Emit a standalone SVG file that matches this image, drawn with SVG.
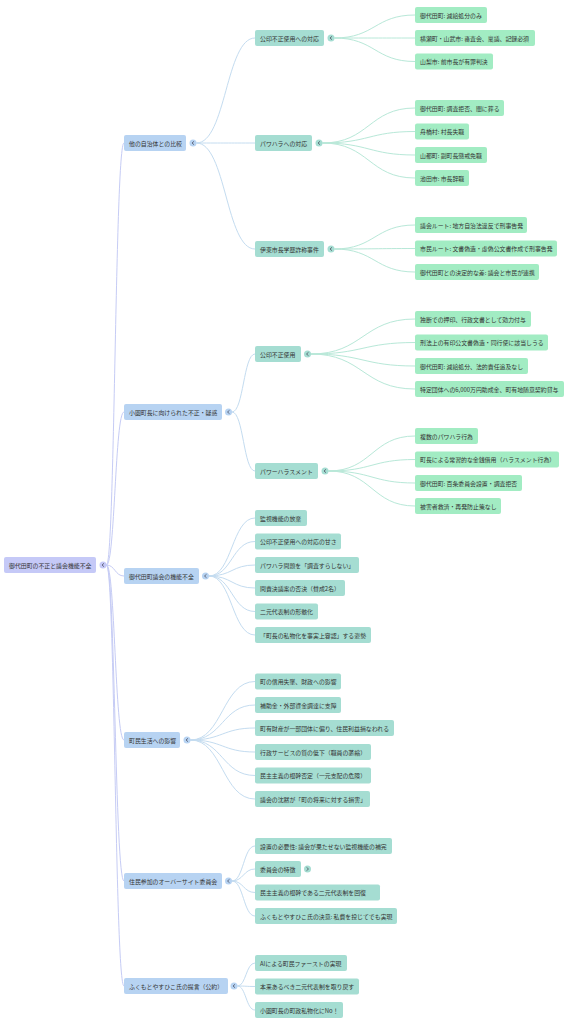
<svg xmlns="http://www.w3.org/2000/svg" width="578" height="1024" viewBox="0 0 578 1024">
<style>
text{font-family:"Noto Sans CJK JP","Noto Sans",sans-serif;font-size:5.9px;fill:#333;dominant-baseline:central}
.r0{fill:#c5c9f7}.r1{fill:#b7d3f2}.r2{fill:#a5ddd2}.r3{fill:#a2ecc3}
.l0{fill:none;stroke:#c6ccf5;stroke-width:1}
.l1{fill:none;stroke:#c4dcf0;stroke-width:1}
.l2{fill:none;stroke:#b8e8d8;stroke-width:1}
.chev{fill:none;stroke:#445;stroke-width:0.7}
</style>
<rect width="578" height="1024" fill="#fff"/>
<g id="connectors">
<!-- root to L1 -->
<path class="l0" d="M106.5,565 C115,565 115,143 124,143"/>
<path class="l0" d="M106.5,565 C115,565 115,412 124,412"/>
<path class="l0" d="M106.5,565 C115,565 115,576 124,576"/>
<path class="l0" d="M106.5,565 C115,565 115,740 124,740"/>
<path class="l0" d="M106.5,565 C115,565 115,881 124,881"/>
<path class="l0" d="M106.5,565 C115,565 115,986 124,986"/>
<!-- L1 to L2 -->
<path class="l1" d="M196.5,143 C226,143 226,38 255,38"/>
<path class="l1" d="M196.5,143 C226,143 226,143 255,143"/>
<path class="l1" d="M196.5,143 C226,143 226,249 255,249"/>
<path class="l1" d="M232,412 C243.5,412 243.5,354 255,354"/>
<path class="l1" d="M232,412 C243.5,412 243.5,471 255,471"/>
<path class="l1" d="M209,576 C232,576 232,518 255,518"/>
<path class="l1" d="M209,576 C232,576 232,541.5 255,541.5"/>
<path class="l1" d="M209,576 C232,576 232,565 255,565"/>
<path class="l1" d="M209,576 C232,576 232,588 255,588"/>
<path class="l1" d="M209,576 C232,576 232,611.5 255,611.5"/>
<path class="l1" d="M209,576 C232,576 232,635 255,635"/>
<path class="l1" d="M190.5,740 C222.5,740 222.5,681.5 255,681.5"/>
<path class="l1" d="M190.5,740 C222.5,740 222.5,705 255,705"/>
<path class="l1" d="M190.5,740 C222.5,740 222.5,728 255,728"/>
<path class="l1" d="M190.5,740 C222.5,740 222.5,752 255,752"/>
<path class="l1" d="M190.5,740 C222.5,740 222.5,775.5 255,775.5"/>
<path class="l1" d="M190.5,740 C222.5,740 222.5,799 255,799"/>
<path class="l1" d="M232,881 C243.5,881 243.5,846 255,846"/>
<path class="l1" d="M232,881 C243.5,881 243.5,869 255,869"/>
<path class="l1" d="M232,881 C243.5,881 243.5,892.5 255,892.5"/>
<path class="l1" d="M232,881 C243.5,881 243.5,916 255,916"/>
<path class="l1" d="M237.5,986 C246,986 246,963 255,963"/>
<path class="l1" d="M237.5,986 C246,986 246,986.5 255,986.5"/>
<path class="l1" d="M237.5,986 C246,986 246,1010 255,1010"/>
<!-- L2 to L3 -->
<path class="l2" d="M334.5,38 C375,38 375,15 415,15"/>
<path class="l2" d="M334.5,38 C375,38 375,38 415,38"/>
<path class="l2" d="M334.5,38 C375,38 375,61.5 415,61.5"/>
<path class="l2" d="M322.5,143 C369,143 369,108 415,108"/>
<path class="l2" d="M322.5,143 C369,143 369,131.5 415,131.5"/>
<path class="l2" d="M322.5,143 C369,143 369,155 415,155"/>
<path class="l2" d="M322.5,143 C369,143 369,178 415,178"/>
<path class="l2" d="M334.5,249 C375,249 375,225 415,225"/>
<path class="l2" d="M334.5,249 C375,249 375,248.5 415,248.5"/>
<path class="l2" d="M334.5,249 C375,249 375,272 415,272"/>
<path class="l2" d="M311,354 C363,354 363,319 415,319"/>
<path class="l2" d="M311,354 C363,354 363,342.5 415,342.5"/>
<path class="l2" d="M311,354 C363,354 363,366 415,366"/>
<path class="l2" d="M311,354 C363,354 363,389 415,389"/>
<path class="l2" d="M328.5,471 C372,471 372,436 415,436"/>
<path class="l2" d="M328.5,471 C372,471 372,459.5 415,459.5"/>
<path class="l2" d="M328.5,471 C372,471 372,483 415,483"/>
<path class="l2" d="M328.5,471 C372,471 372,506 415,506"/>
</g>
<g id="root">
<rect class="r0" x="4" y="557" width="92" height="16" rx="2"/>
<text x="9" y="565">御代田町の不正と議会機能不全</text>
<circle class="r0" cx="103" cy="565" r="3.5"/><polyline class="chev" points="104,563.3 102,565 104,566.7"/>
</g>
<g id="n1">
<rect class="r1" x="124" y="135" width="62" height="16" rx="2"/>
<text x="129" y="143">他の自治体との比較</text>
<circle class="r1" cx="193" cy="143" r="3.5"/><polyline class="chev" points="194,141.3 192,143 194,144.7"/>
</g>
<g id="n1-1">
<rect class="r2" x="255" y="30" width="69" height="16" rx="2"/>
<text x="260" y="38">公印不正使用への対応</text>
<circle class="r2" cx="331" cy="38" r="3.5"/><polyline class="chev" points="332,36.3 330,38 332,39.7"/>
</g>
<g id="n1-1-1"><rect class="r3" x="415" y="7" width="72" height="16" rx="2"/><text x="420" y="15">御代田町: 減給処分のみ</text></g>
<g id="n1-1-2"><rect class="r3" x="415" y="30" width="120" height="16" rx="2"/><text x="420" y="38">横瀬町・山武市: 審査会、稟議、記録必須</text></g>
<g id="n1-1-3"><rect class="r3" x="415" y="53.5" width="78" height="16" rx="2"/><text x="420" y="61.5">山梨市: 前市長が有罪判決</text></g>
<g id="n1-2">
<rect class="r2" x="255" y="135" width="57" height="16" rx="2"/>
<text x="260" y="143">パワハラへの対応</text>
<circle class="r2" cx="319" cy="143" r="3.5"/><polyline class="chev" points="320,141.3 318,143 320,144.7"/>
</g>
<g id="n1-2-1"><rect class="r3" x="415" y="100" width="89" height="16" rx="2"/><text x="420" y="108">御代田町: 調査拒否、闇に葬る</text></g>
<g id="n1-2-2"><rect class="r3" x="415" y="123.5" width="54" height="16" rx="2"/><text x="420" y="131.5">舟橋村: 村長失職</text></g>
<g id="n1-2-3"><rect class="r3" x="415" y="147" width="72" height="16" rx="2"/><text x="420" y="155">山都町: 副町長懲戒免職</text></g>
<g id="n1-2-4"><rect class="r3" x="415" y="170" width="54" height="16" rx="2"/><text x="420" y="178">池田市: 市長辞職</text></g>
<g id="n1-3">
<rect class="r2" x="255" y="241" width="69" height="16" rx="2"/>
<text x="260" y="249">伊東市長学歴詐称事件</text>
<circle class="r2" cx="331" cy="249" r="3.5"/><polyline class="chev" points="332,247.3 330,249 332,250.7"/>
</g>
<g id="n1-3-1"><rect class="r3" x="415" y="217" width="112" height="16" rx="2"/><text x="420" y="225">議会ルート: 地方自治法違反で刑事告発</text></g>
<g id="n1-3-2"><rect class="r3" x="415" y="240.5" width="142" height="16" rx="2"/><text x="420" y="248.5">市民ルート: 文書偽造・虚偽公文書作成で刑事告発</text></g>
<g id="n1-3-3"><rect class="r3" x="415" y="264" width="124" height="16" rx="2"/><text x="420" y="272">御代田町との決定的な差: 議会と市民が連携</text></g>
<g id="n2">
<rect class="r1" x="124" y="404" width="98" height="16" rx="2"/>
<text x="129" y="412">小園町長に向けられた不正・疑惑</text>
<circle class="r1" cx="228.5" cy="412" r="3.5"/><polyline class="chev" points="229.5,410.3 227.5,412 229.5,413.7"/>
</g>
<g id="n2-1">
<rect class="r2" x="255" y="346" width="46" height="16" rx="2"/>
<text x="260" y="354">公印不正使用</text>
<circle class="r2" cx="307.5" cy="354" r="3.5"/><polyline class="chev" points="308.5,352.3 306.5,354 308.5,355.7"/>
</g>
<g id="n2-1-1"><rect class="r3" x="415" y="311" width="116" height="16" rx="2"/><text x="420" y="319">独断での押印、行政文書として効力付与</text></g>
<g id="n2-1-2"><rect class="r3" x="415" y="334.5" width="133" height="16" rx="2"/><text x="420" y="342.5">刑法上の有印公文書偽造・同行使に該当しうる</text></g>
<g id="n2-1-3"><rect class="r3" x="415" y="358" width="113" height="16" rx="2"/><text x="420" y="366">御代田町: 減給処分、法的責任追及なし</text></g>
<g id="n2-1-4"><rect class="r3" x="415" y="381" width="149" height="16" rx="2"/><text x="420" y="389">特定団体への6,000万円助成金、町有地随意契約貸与</text></g>
<g id="n2-2">
<rect class="r2" x="255" y="463" width="63" height="16" rx="2"/>
<text x="260" y="471">パワーハラスメント</text>
<circle class="r2" cx="325" cy="471" r="3.5"/><polyline class="chev" points="326,469.3 324,471 326,472.7"/>
</g>
<g id="n2-2-1"><rect class="r3" x="415" y="428" width="63" height="16" rx="2"/><text x="420" y="436">複数のパワハラ行為</text></g>
<g id="n2-2-2"><rect class="r3" x="415" y="451.5" width="144" height="16" rx="2"/><text x="420" y="459.5">町長による常習的な金銭借用（ハラスメント行為）</text></g>
<g id="n2-2-3"><rect class="r3" x="415" y="475" width="107" height="16" rx="2"/><text x="420" y="483">御代田町: 百条委員会設置・調査拒否</text></g>
<g id="n2-2-4"><rect class="r3" x="415" y="498" width="86" height="16" rx="2"/><text x="420" y="506">被害者救済・再発防止策なし</text></g>
<g id="n3">
<rect class="r1" x="124" y="568" width="75" height="16" rx="2"/>
<text x="129" y="576">御代田町議会の機能不全</text>
<circle class="r1" cx="205.5" cy="576" r="3.5"/><polyline class="chev" points="206.5,574.3 204.5,576 206.5,577.7"/>
</g>
<g id="n3-1"><rect class="r2" x="255" y="510" width="52" height="16" rx="2"/><text x="260" y="518">監視機能の放棄</text></g>
<g id="n3-2"><rect class="r2" x="255" y="533.5" width="86" height="16" rx="2"/><text x="260" y="541.5">公印不正使用への対応の甘さ</text></g>
<g id="n3-3"><rect class="r2" x="255" y="557" width="104" height="16" rx="2"/><text x="260" y="565">パワハラ問題を「調査すらしない」</text></g>
<g id="n3-4"><rect class="r2" x="255" y="580" width="90" height="16" rx="2"/><text x="260" y="588">問責決議案の否決（賛成2名）</text></g>
<g id="n3-5"><rect class="r2" x="255" y="603.5" width="63" height="16" rx="2"/><text x="260" y="611.5">二元代表制の形骸化</text></g>
<g id="n3-6"><rect class="r2" x="255" y="627" width="116" height="16" rx="2"/><text x="260" y="635">「町長の私物化を事実上容認」する姿勢</text></g>
<g id="n4">
<rect class="r1" x="124" y="732" width="56" height="16" rx="2"/>
<text x="129" y="740">町民生活への影響</text>
<circle class="r1" cx="187" cy="740" r="3.5"/><polyline class="chev" points="188,738.3 186,740 188,741.7"/>
</g>
<g id="n4-1"><rect class="r2" x="255" y="673.5" width="86" height="16" rx="2"/><text x="260" y="681.5">町の信用失墜、財政への影響</text></g>
<g id="n4-2"><rect class="r2" x="255" y="697" width="86" height="16" rx="2"/><text x="260" y="705">補助金・外部資金調達に支障</text></g>
<g id="n4-3"><rect class="r2" x="255" y="720" width="139" height="16" rx="2"/><text x="260" y="728">町有財産が一部団体に偏り、住民利益損なわれる</text></g>
<g id="n4-4"><rect class="r2" x="255" y="744" width="116" height="16" rx="2"/><text x="260" y="752">行政サービスの質の低下（職員の萎縮）</text></g>
<g id="n4-5"><rect class="r2" x="255" y="767.5" width="116" height="16" rx="2"/><text x="260" y="775.5">民主主義の根幹否定（一元支配の危険）</text></g>
<g id="n4-6"><rect class="r2" x="255" y="791" width="115" height="16" rx="2"/><text x="260" y="799">議会の沈黙が「町の将来に対する損害」</text></g>
<g id="n5">
<rect class="r1" x="124" y="873" width="98" height="16" rx="2"/>
<text x="129" y="881">住民参加のオーバーサイト委員会</text>
<circle class="r1" cx="228.5" cy="881" r="3.5"/><polyline class="chev" points="229.5,879.3 227.5,881 229.5,882.7"/>
</g>
<g id="n5-1"><rect class="r2" x="255" y="838" width="137" height="16" rx="2"/><text x="260" y="846">設置の必要性: 議会が果たせない監視機能の補完</text></g>
<g id="n5-2">
<rect class="r2" x="255" y="861" width="46" height="16" rx="2"/><text x="260" y="869">委員会の特徴</text>
<circle class="r2" cx="307.5" cy="869" r="3.5"/><polyline class="chev" points="306.5,867.3 308.5,869 306.5,870.7"/>
</g>
<g id="n5-3"><rect class="r2" x="255" y="884.5" width="125" height="16" rx="2"/><text x="260" y="892.5">民主主義の根幹である二元代表制を回復</text></g>
<g id="n5-4"><rect class="r2" x="255" y="908" width="142" height="16" rx="2"/><text x="260" y="916">ふくもとやすひこ氏の決意: 私費を投じてでも実現</text></g>
<g id="n6">
<rect class="r1" x="124" y="978" width="104" height="16" rx="2"/>
<text x="129" y="986">ふくもとやすひこ氏の提言（公約）</text>
<circle class="r1" cx="234" cy="986" r="3.5"/><polyline class="chev" points="235,984.3 233,986 235,987.7"/>
</g>
<g id="n6-1"><rect class="r2" x="255" y="955" width="92" height="16" rx="2"/><text x="260" y="963">AIによる町民ファーストの実現</text></g>
<g id="n6-2"><rect class="r2" x="255" y="978.5" width="104" height="16" rx="2"/><text x="260" y="986.5">本来あるべき二元代表制を取り戻す</text></g>
<g id="n6-3"><rect class="r2" x="255" y="1002" width="88" height="16" rx="2"/><text x="260" y="1010">小園町長の町政私物化にNo！</text></g>
</svg>
